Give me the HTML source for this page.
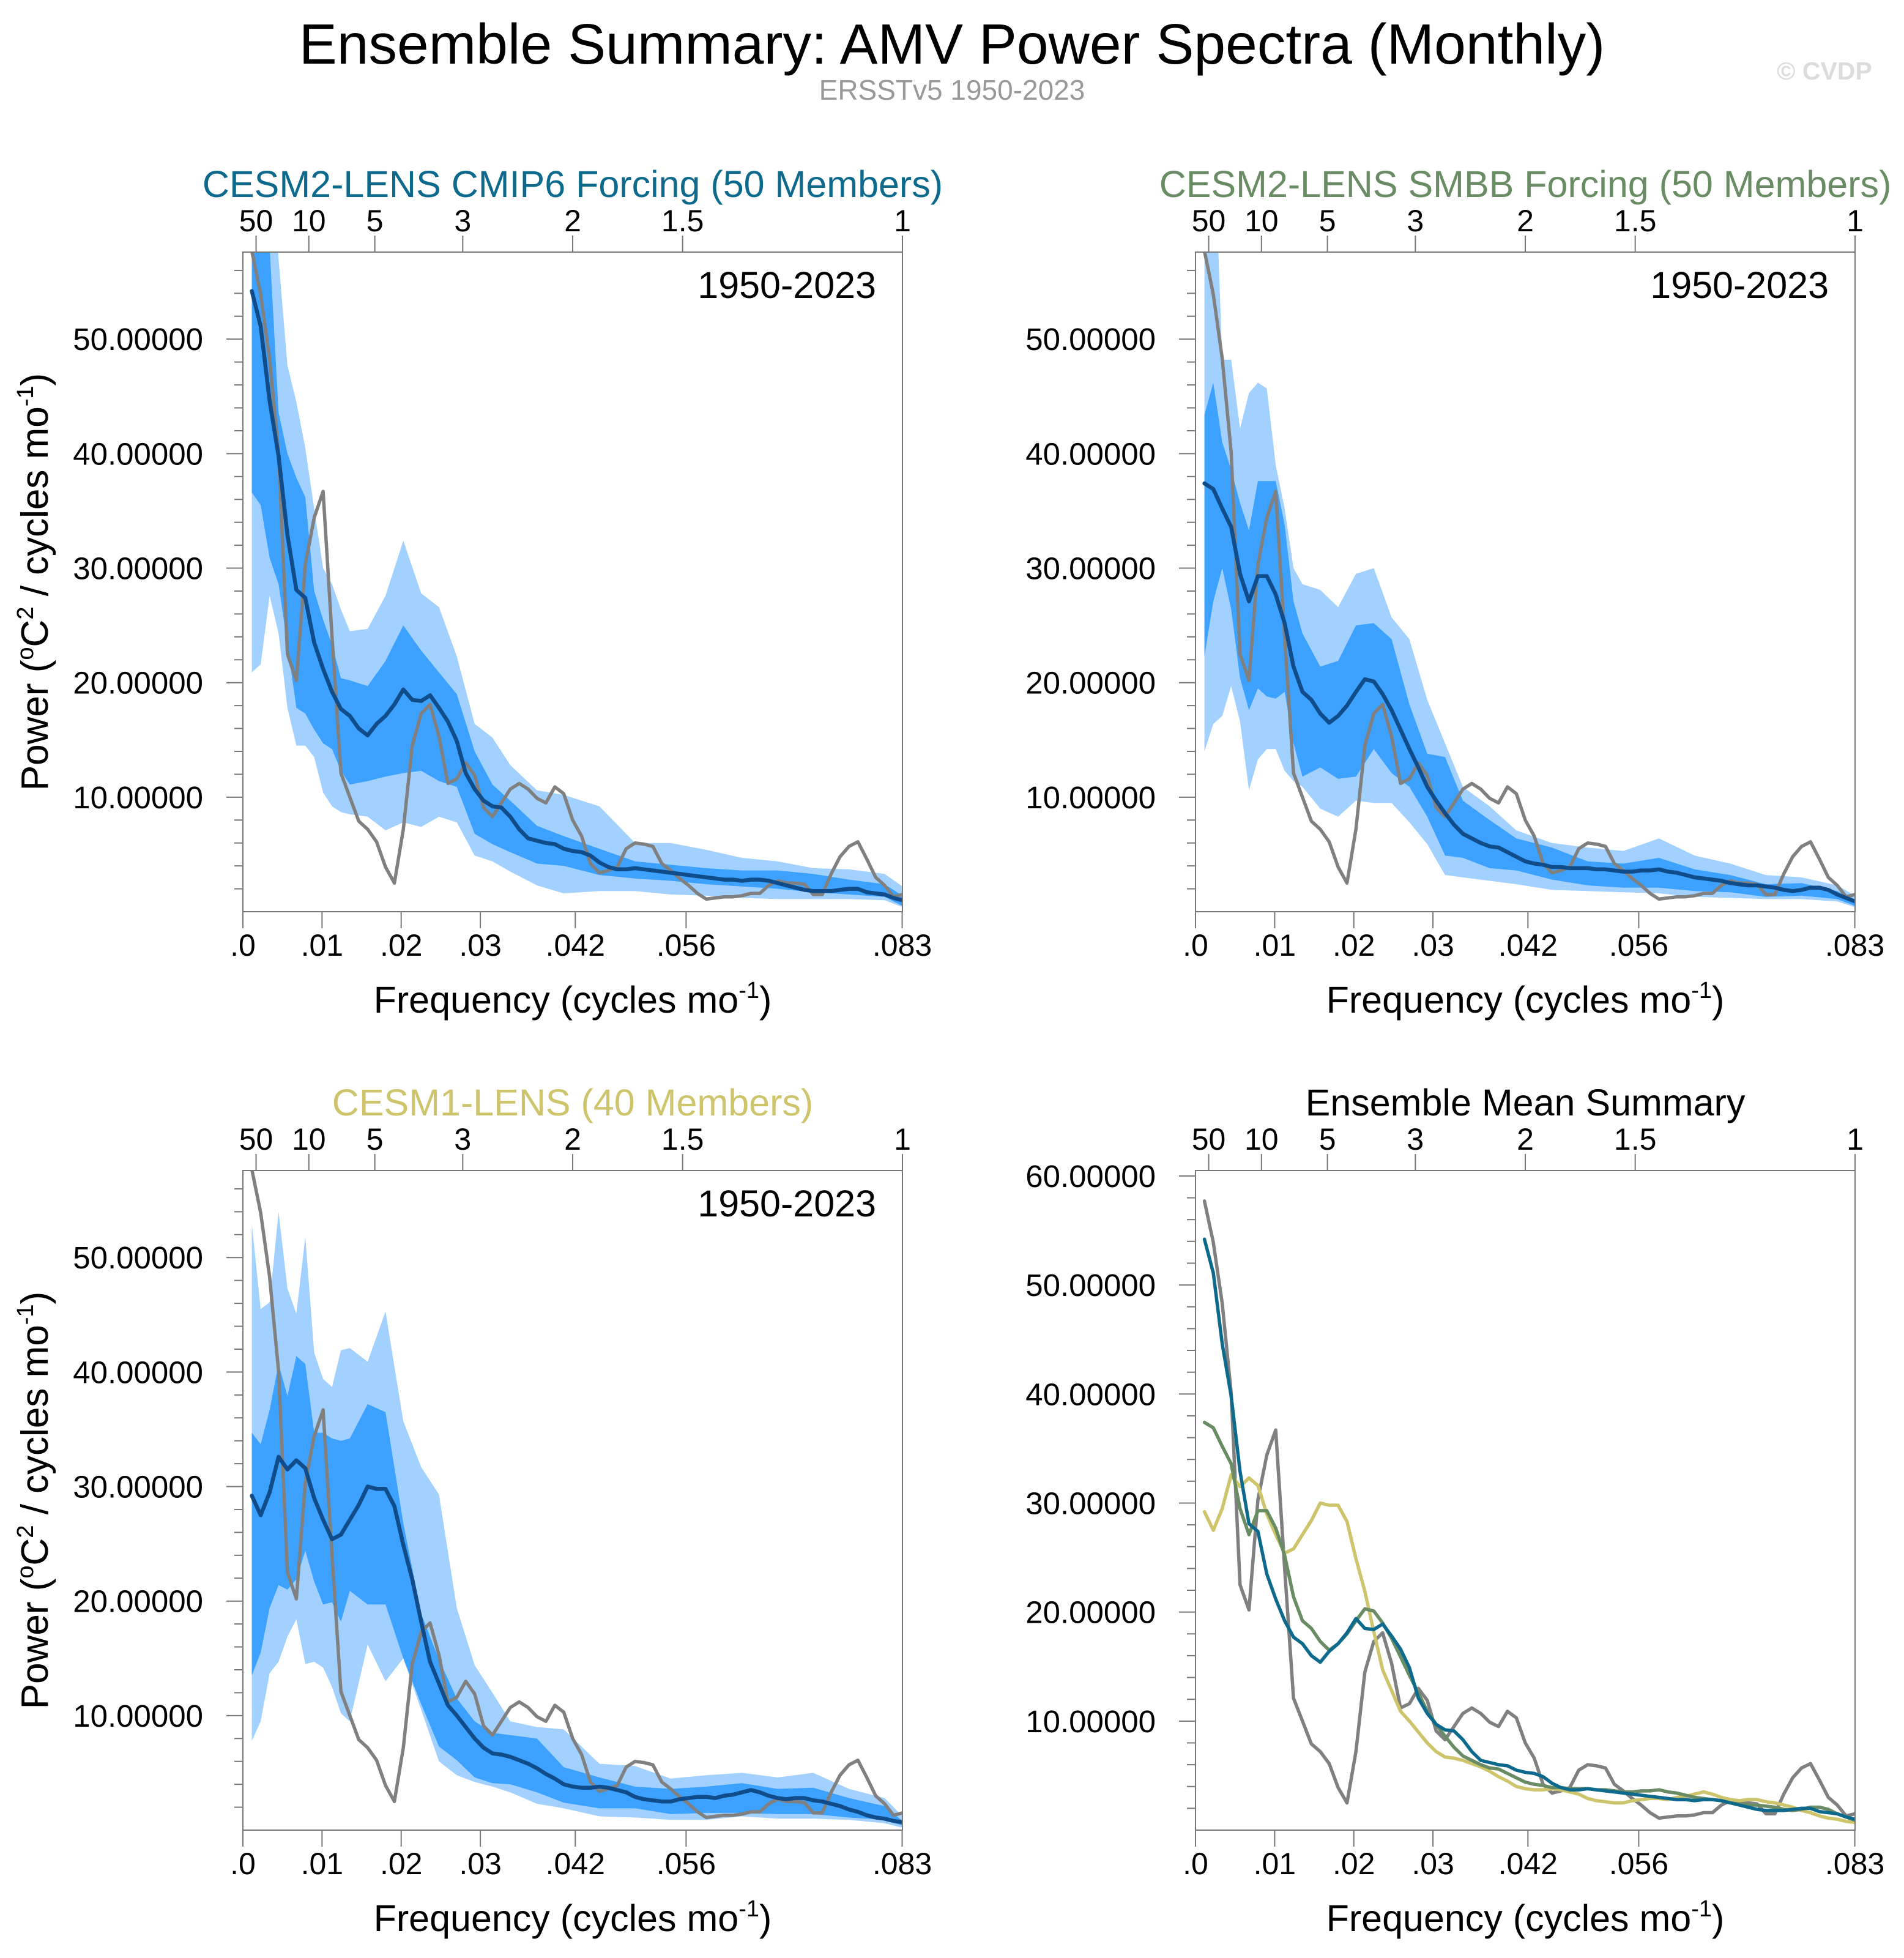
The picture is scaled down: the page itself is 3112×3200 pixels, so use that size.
<!DOCTYPE html>
<html><head><meta charset="utf-8">
<style>
html,body{margin:0;padding:0;background:#fff;}
svg{display:block;font-family:"Liberation Sans",Arial,sans-serif;}
</style></head>
<body>
<svg id="fig" width="3112" height="3200" viewBox="0 0 3112 3200" xmlns="http://www.w3.org/2000/svg">
<rect width="3112" height="3200" fill="#fff"/>
<text x="1556" y="104" font-size="93" text-anchor="middle" fill="#000">Ensemble Summary: AMV Power Spectra (Monthly)</text>
<text x="1556" y="163" font-size="46" text-anchor="middle" fill="#999">ERSSTv5 1950-2023</text>
<text x="2982" y="130" font-size="41" font-weight="bold" text-anchor="middle" fill="#dcdcdc">© CVDP</text>
</svg>
<script>
// ---- data ----
const nMonths = [888];
const kObs = [1,2,3,4,5,6,7,8,9,10,11,12,13,14,15,16,17,18,19,20,21,22,23,24,25,26,27,28,29,30,31,32,33,34,35,36,37,38,39,40,41,42,43,44,45,46,47,48,49,50,51,52,53,54,55,56,57,58,59,60,61,62,63,64,65,66,67,68,69,70,71,72,73,74];
const obsVals = [57.7,53.9,48.3,40.1,22.5,20.2,30.3,34.4,36.7,24,12.1,10.0,7.9,7.2,6.1,3.9,2.5,7.2,14.5,17.3,18.1,15.3,11.2,11.6,13.0,11.9,9.1,8.3,9.5,10.7,11.2,10.7,9.9,9.5,10.9,10.3,8.0,6.6,4.2,3.4,3.6,3.9,5.5,6.0,5.9,5.7,4.2,3.6,2.9,2.3,1.6,1.1,1.2,1.3,1.3,1.4,1.6,1.6,2.3,2.7,2.5,2.5,2.4,1.5,1.5,3.3,4.8,5.7,6.1,4.6,3.0,2.3,1.3,1.5];
const meanCmip6 = [54.2,51.1,44.6,39.8,32.9,28.1,27.4,23.5,21.2,19.2,17.7,17.1,16.0,15.4,16.4,17.1,18.1,19.4,18.5,18.4,18.9,17.8,16.6,14.9,12.1,10.7,9.7,9.2,9.1,8.3,7.2,6.4,6.2,6.0,5.9,5.5,5.3,5.2,4.9,4.3,3.9,3.7,3.7,3.8,3.7,3.6,3.5,3.4,3.3,3.2,3.1,3.0,2.9,2.8,2.8,2.7,2.8,2.8,2.7,2.5,2.3,2.1,1.9,1.8,1.8,1.8,1.9,2.0,2.0,1.7,1.6,1.5,1.2,1.0];
const meanSmbb = [37.4,36.9,35.2,33.6,29.5,27.1,29.3,29.3,27.7,25.2,21.4,19.2,18.5,17.3,16.5,17.1,18.0,19.2,20.3,20.1,19.0,17.6,15.9,14.2,12.6,10.9,9.7,8.6,7.6,6.8,6.4,6.0,5.7,5.6,5.2,4.8,4.4,4.2,4.1,3.9,3.9,3.8,3.8,3.8,3.7,3.7,3.6,3.5,3.5,3.6,3.6,3.7,3.5,3.4,3.2,3.0,2.9,2.8,2.7,2.5,2.4,2.3,2.3,2.2,2.1,1.9,1.8,1.9,2.1,2.1,1.9,1.5,1.2,0.9];
const meanCesm1 = [29.2,27.5,29.5,32.6,31.5,32.3,31.6,29.0,27.1,25.4,25.8,27.1,28.4,30.0,29.8,29.8,28.3,24.9,21.9,18.2,14.7,12.8,10.9,10.0,9.0,8.0,7.2,6.7,6.6,6.4,6.1,5.8,5.4,4.9,4.5,4.0,3.8,3.7,3.7,3.8,3.7,3.5,3.3,2.9,2.7,2.6,2.5,2.5,2.7,2.8,2.9,2.9,2.8,3.0,3.1,3.3,3.5,3.3,3.0,2.8,2.7,2.8,2.8,2.6,2.5,2.3,2.1,1.8,1.6,1.3,1.1,1.0,0.8,0.7];
const kBand = [1,2,3,4,5,6,7,8,9,10,11,12,14,16,18,20,22,24,26,28,30,33,36,40,44,48,52,56,60,64,68,72,74];
const cmip6LightHi = [70,70,70,57,47.7,44.5,40.5,35.2,30,28.6,26.4,24.5,24.7,27.6,32.4,27.8,26.6,22.3,16.4,15.2,12.8,10.6,10.2,9.2,6,6,5.4,4.7,4.4,3.8,3.7,3.3,2.2];
const cmip6DarkHi = [70,70,58,43.6,40,37.9,36.2,28,25.5,23.3,20.4,20.2,19.7,21.9,25,22.8,20.9,19,14,11.1,9.7,7.5,6.6,5.5,4.4,4.1,3.8,3.6,3.6,3.3,2.8,2.4,1.4];
const cmip6DarkLo = [36.6,35.5,30.9,28.6,23.3,17.8,17.3,15.9,14.7,14.2,12.3,11.1,11.4,11.8,12.1,12.3,11.4,10.9,6.8,5.9,5.2,4.2,4.0,3.2,2.9,2.7,2.4,2.2,2.0,1.7,1.5,1.3,0.5];
const cmip6LightLo = [20.9,21.6,27.6,24.3,17.8,14.5,14.5,13.5,10.4,9.2,8.7,8.5,8.3,7.1,7.8,7.4,8.3,7.8,4.9,4.4,3.5,2.3,1.6,1.8,1.8,1.5,1.4,1.2,1.1,1.1,1.1,1.0,0.4];
const smbbLightHi = [70,70,48.2,48.2,42.2,45.3,46.2,45.7,39,35.2,30,28.6,28.1,26.6,29.5,30,25.7,23.8,18.5,14.7,10.9,9.2,7.1,6,5.6,5.3,6.4,4.9,4.2,3.2,3.0,2.3,1.4];
const smbbDarkHi = [43.4,46.2,41,38.6,35.7,33.3,37.6,37.6,37.6,33.8,27.1,24.3,21.4,21.9,25,25.2,23.8,18.1,13.8,13.5,9.7,8,6.4,5.6,4.4,4.2,4.7,3.7,3.2,2.4,2.5,1.8,0.9];
const smbbDarkLo = [22.3,27.1,30,26.4,20.4,17.6,19.5,18.8,18.6,19.2,14.7,11.8,12.6,11.6,11.8,14.2,12.1,10.9,8.3,4.9,4.7,3.8,3.6,2.8,2.3,2.1,2.1,1.8,1.7,1.3,1.4,1.1,0.5];
const smbbLightLo = [14,16.4,17.1,19.7,16.6,10.6,13.3,14.2,14.2,12.3,11.4,10.9,9,8.3,9.7,9.5,9.5,7.8,5.9,3.2,3.0,2.7,2.4,1.9,1.8,1.7,1.6,1.3,1.2,1.1,1.1,0.9,0.4];
const cesm1LightHi = [52.9,45.5,46.1,54,47.3,45.1,51.8,41.7,39.4,38.7,41.9,42.1,40.9,45.3,35.7,31.7,29.3,19.4,14.4,12,9.5,9,8.8,5.8,5.6,4.5,4.8,5,4.6,5,3.6,2.8,1.2];
const cesm1DarkHi = [34.7,33.7,36.7,40.7,37.9,41.4,40.7,34.7,34.7,34.2,34,34.2,37.2,36.5,26.8,18.9,14.9,11.5,9.5,8.5,8.3,8,5.5,4.6,3.8,3.6,3.8,4.1,3.6,3.7,2.8,2.1,0.8];
const cesm1DarkLo = [13.5,15.5,19.4,21.4,21,21.9,24.4,21.7,19.7,19.9,18.2,20.9,19.7,19.7,15,11,7.3,6.1,4.6,4.1,4,3.3,2.4,1.9,1.9,1.4,1.5,1.5,1.4,1.4,1.1,0.9,0.4];
const cesm1LightLo = [7.8,9.5,13.7,14.7,16.9,18.4,14.5,14.7,14.2,12.5,10.2,9.5,16.2,13,15,10.5,6,4.8,4.2,3.8,3.3,2.3,1.9,1.2,1.1,0.9,0.9,1.2,1.0,1.0,0.9,0.6,0.2];
const topTickPeriods = [50,10,5,3,2,1.5,1];
const topTickLabels = ["50","10","5","3","2","1.5","1"];
const bottomTickFreqs = [0,0.01,0.02,0.03,0.042,0.056,0.0833];
const bottomTickLabels = [".0",".01",".02",".03",".042",".056",".083"];
const yMajor = [10,20,30,40,50];
const yMajor4 = [10,20,30,40,50,60];

// ---- drawing ----
const NS = "http://www.w3.org/2000/svg";
const svg = document.getElementById("fig");
const FMAX = 1/12;
const C_LIGHT = "#a3d1ff", C_DARK = "#3ca1ff", C_MEAN = "#0f4c89", C_OBS = "#808080";

function mk(tag, attrs, parent){
  const e = document.createElementNS(NS, tag);
  for (const a in attrs) e.setAttribute(a, attrs[a]);
  (parent||svg).appendChild(e);
  return e;
}

function makePanel(p){
  const g = mk("g", {});
  
  
  const sx = f => p.x + f / FMAX * p.w;
  const sy = v => p.y + p.h - v / p.ymax * p.h;
  const kx = k => sx(k / nMonths[0]);
  const cid = "clip-" + p.name;
  const defs = mk("defs", {}, g);
  const cp = mk("clipPath", {id: cid}, defs);
  mk("rect", {x: p.x, y: p.y, width: p.w, height: p.h}, cp);
  const plot = mk("g", {"clip-path": "url(#" + cid + ")"}, g);
  
  

  function band(hi, lo, color, nm){
    let d = "";
    kBand.forEach((k,i)=>{ d += (i?"L":"M") + kx(k).toFixed(1) + "," + sy(hi[i]).toFixed(1); });
    for (let i = kBand.length-1; i >= 0; i--) d += "L" + kx(kBand[i]).toFixed(1) + "," + sy(lo[i]).toFixed(1);
    const e = mk("path", {d: d + "Z", fill: color, stroke: "none"}, plot);
    
    
  }
  function line(vals, color, width, nm){
    let d = "";
    kObs.forEach((k,i)=>{ d += (i?"L":"M") + kx(k).toFixed(1) + "," + sy(vals[i]).toFixed(1); });
    const e = mk("path", {d: d, fill: "none", stroke: color, "stroke-width": width, "stroke-linejoin": "round", "stroke-linecap": "round"}, plot);
    
    
  }
  if (p.bands){
    band(p.bands[0], p.bands[3], C_LIGHT, "outer-spread-band");
    band(p.bands[1], p.bands[2], C_DARK, "inner-spread-band");
    line(obsVals, C_OBS, 5.5, "observed-spectrum-line");
    line(p.mean, C_MEAN, 6.5, "ensemble-mean-line");
  } else {
    line(obsVals, C_OBS, 5.5, "observed-spectrum-line");
    line(meanCesm1, "#cdc46b", 5.5, "cesm1-mean-line");
    line(meanSmbb, "#6a8c65", 5.5, "cesm2-smbb-mean-line");
    line(meanCmip6, "#0d6a8c", 5.5, "cesm2-cmip6-mean-line");
  }
  const fr = mk("rect", {x: p.x, y: p.y, width: p.w, height: p.h, fill: "none", stroke: "#777", "stroke-width": 2}, g);
  
  
  for (let v = 2; v < p.ymax; v += 2){
    const major = (v % 10 === 0);
    const t = mk("line", {x1: p.x - (major ? 27 : 14), x2: p.x, y1: sy(v), y2: sy(v), stroke: "#777", "stroke-width": 2}, g);
    
    
  }
  (p.ymax > 59 ? yMajor4 : yMajor).forEach(v=>{
    const t = mk("text", {x: p.x - 65, y: sy(v) + 18, "font-size": 51, "text-anchor": "end", fill: "#000"}, g);
    t.textContent = v.toFixed(5);
    
    
  });
  bottomTickFreqs.forEach((f,i)=>{
    const X = sx(f);
    const t = mk("line", {x1: X, x2: X, y1: p.y + p.h, y2: p.y + p.h + 27, stroke: "#777", "stroke-width": 2}, g);
    
    
    const l = mk("text", {x: X, y: p.y + p.h + 72, "font-size": 50, "text-anchor": "middle", fill: "#000"}, g);
    l.textContent = bottomTickLabels[i];
    
    
  });
  topTickPeriods.forEach((yr,i)=>{
    const X = sx(1/(yr*12));
    const t = mk("line", {x1: X, x2: X, y1: p.y, y2: p.y - 27, stroke: "#777", "stroke-width": 2}, g);
    
    
    const l = mk("text", {x: X, y: p.y - 34, "font-size": 50, "text-anchor": "middle", fill: "#000"}, g);
    l.textContent = topTickLabels[i];
    
    
  });
  const tt = mk("text", {x: p.x + p.w/2, y: p.y - 90, "font-size": 61, "text-anchor": "middle", fill: p.titleColor}, g);
  tt.textContent = p.title;
  
  
  if (p.bands){
    const yr = mk("text", {x: p.x + p.w - 43, y: p.y + 75, "font-size": 61, "text-anchor": "end", fill: "#000"}, g);
    yr.textContent = "1950-2023";
    
    
  }
  const xt = mk("text", {x: p.x + p.w/2, y: p.y + p.h + 165, "font-size": 61, "text-anchor": "middle", fill: "#000"}, g);
  xt.innerHTML = 'Frequency (cycles mo<tspan dy="-24" font-size="38">-1</tspan><tspan dy="24">)</tspan>';
  
  
  const cy = p.y + p.h/2;
  const yt = mk("text", {x: 0, y: 0, "font-size": 62, "text-anchor": "middle", fill: "#000", transform: "translate(78," + cy + ") rotate(-90)"}, g);
  yt.innerHTML = 'Power (<tspan dy="-24" font-size="38">o</tspan><tspan dy="24">C</tspan><tspan dy="-24" font-size="38">2</tspan><tspan dy="24"> / cycles mo</tspan><tspan dy="-24" font-size="38">-1</tspan><tspan dy="24">)</tspan>';
  
  
}

makePanel({name: "panel-cesm2-cmip6", x: 397, y: 412, w: 1078, h: 1078, ymax: 57.6,
  title: "CESM2-LENS CMIP6 Forcing (50 Members)", titleColor: "#0d6a8c",
  mean: meanCmip6, bands: [cmip6LightHi, cmip6DarkHi, cmip6DarkLo, cmip6LightLo]});
makePanel({name: "panel-cesm2-smbb", x: 1954, y: 412, w: 1078, h: 1078, ymax: 57.6,
  title: "CESM2-LENS SMBB Forcing (50 Members)", titleColor: "#6a8c65",
  mean: meanSmbb, bands: [smbbLightHi, smbbDarkHi, smbbDarkLo, smbbLightLo]});
makePanel({name: "panel-cesm1", x: 397, y: 1913, w: 1078, h: 1078, ymax: 57.6,
  title: "CESM1-LENS (40 Members)", titleColor: "#cdc46b",
  mean: meanCesm1, bands: [cesm1LightHi, cesm1DarkHi, cesm1DarkLo, cesm1LightLo]});
makePanel({name: "panel-ensemble-mean-summary", x: 1954, y: 1913, w: 1078, h: 1078, ymax: 60.5,
  title: "Ensemble Mean Summary", titleColor: "#000", bands: null});
</script>
</body></html>
